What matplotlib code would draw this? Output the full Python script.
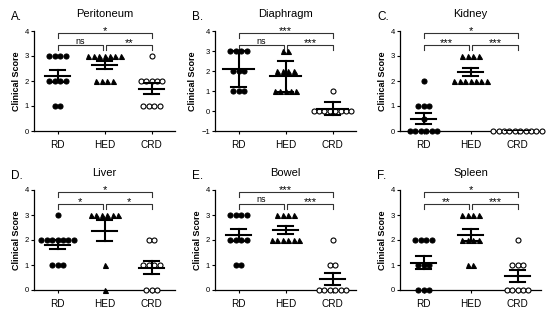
import numpy as np
import matplotlib.pyplot as plt
from matplotlib.transforms import blended_transform_factory

plt.rcParams['font.family'] = ['Liberation Sans', 'DejaVu Sans']

groups = ['RD', 'HED', 'CRD']
panels = ['A.', 'B.', 'C.', 'D.', 'E.', 'F.']
titles = ['Peritoneum', 'Diaphragm', 'Kidney', 'Liver', 'Bowel', 'Spleen']

# clinical scores per group
peritoneum_rd = [3, 3, 3, 3, 2, 2, 2, 2, 1, 1]
peritoneum_hed = [3, 3, 3, 3, 3, 3, 3, 2, 2, 2, 2]
peritoneum_crd = [3, 2, 2, 2, 2, 2, 1, 1, 1, 1]

diaphragm_rd = [3, 3, 3, 3, 2, 2, 2, 1, 1, 1]
diaphragm_hed = [3, 3, 2, 2, 2, 2, 1, 1, 1, 1, 1]
diaphragm_crd = [1, 0, 0, 0, 0, 0, 0, 0, 0]

kidney_rd = [2, 1, 1, 1, 0.5, 0, 0, 0, 0, 0, 0]
kidney_hed = [3, 3, 3, 3, 2, 2, 2, 2, 2, 2, 2]
kidney_crd = [0, 0, 0, 0, 0, 0, 0, 0, 0, 0]

liver_rd = [3, 2, 2, 2, 2, 2, 2, 2, 1, 1, 1]
liver_hed = [3, 3, 3, 3, 3, 3, 1, 0]
liver_crd = [2, 2, 1, 1, 1, 1, 0, 0, 0]

bowel_rd = [3, 3, 3, 3, 2, 2, 2, 2, 1, 1]
bowel_hed = [3, 3, 3, 3, 2, 2, 2, 2, 2, 2]
bowel_crd = [2, 1, 1, 0, 0, 0, 0, 0, 0]

spleen_rd = [2, 2, 2, 2, 1, 1, 1, 0, 0, 0]
spleen_hed = [3, 3, 3, 3, 2, 2, 2, 2, 1, 1]
spleen_crd = [2, 1, 1, 1, 0, 0, 0, 0, 0]

data = [
    [peritoneum_rd, peritoneum_hed, peritoneum_crd],
    [diaphragm_rd, diaphragm_hed, diaphragm_crd],
    [kidney_rd, kidney_hed, kidney_crd],
    [liver_rd, liver_hed, liver_crd],
    [bowel_rd, bowel_hed, bowel_crd],
    [spleen_rd, spleen_hed, spleen_crd],
]

# significance: (RD vs HED, HED vs CRD, RD vs CRD)
signif = [
    ('ns', '**', '*'),
    ('ns', '***', '***'),
    ('***', '***', '*'),
    ('*', '*', '*'),
    ('ns', '***', '***'),
    ('**', '***', '*'),
]

# error bars: SD in diaphragm, SEM elsewhere
use_sd = [False, True, False, False, False, False]
ylims = [(0, 4), (-1, 4), (0, 4), (0, 4), (0, 4), (0, 4)]

markers = [('o', 'k'), ('^', 'k'), ('o', 'white')]

fig = plt.figure(figsize=(5.5, 3.2), dpi=100)

lefts = [34, 215, 400]
bottoms = [131, 290]
W, H = 550.0, 320.0

for i in range(6):
    r, c = divmod(i, 3)
    ax = fig.add_axes([lefts[c] / W, (H - bottoms[r]) / H, 141 / W, 100 / H])
    for g, vals in enumerate(data[i]):
        vals = np.array(vals, dtype=float)
        # spread repeated values sideways
        for v in np.unique(vals):
            n = int(np.sum(vals == v))
            xs = g + (np.arange(n) - (n - 1) / 2) * 0.115
            m, fc = markers[g]
            ax.plot(xs, [v] * n, linestyle='none', marker=m, ms=3.6,
                    mfc=fc, mec='k', mew=0.8, clip_on=False, zorder=3)
        mean = vals.mean()
        err = vals.std(ddof=1)
        if not use_sd[i]:
            err = err / np.sqrt(len(vals))
        wm = 0.33 if use_sd[i] else 0.27
        ax.plot([g - wm, g + wm], [mean, mean], color='k', lw=1.5, zorder=4)
        ax.plot([g, g], [mean - err, mean + err], color='k', lw=1.5, zorder=4)
        for y in (mean - err, mean + err):
            ax.plot([g - 0.17, g + 0.17], [y, y], color='k', lw=1.5, zorder=4)

    ax.set_xlim(-0.5, 2.5)
    ax.set_ylim(*ylims[i])
    ax.set_yticks(range(ylims[i][0], 5))
    ax.set_xticks(range(3))
    ax.set_xticklabels(groups, fontsize=7.2)
    ax.tick_params(axis='x', length=2.5, width=0.8, pad=4)
    ax.tick_params(axis='y', labelsize=5.5, length=2.5, width=0.8, pad=1)
    ax.spines['top'].set_visible(False)
    ax.spines['right'].set_visible(False)
    ax.spines['left'].set_linewidth(0.9)
    ax.spines['bottom'].set_linewidth(0.9)
    ax.set_ylabel('Clinical Score', fontsize=6.5, fontweight='bold', labelpad=3)
    ax.set_title(titles[i], fontsize=8, pad=10)
    ax.text(-0.16, 1.14, panels[i], transform=ax.transAxes, fontsize=8.5,
            ha='left', va='center')

    # significance brackets
    tr = blended_transform_factory(ax.transData, ax.transAxes)
    s1, s2, s3 = signif[i]
    for x0, x1, yb, lab in [(0, 0.96, 0.86, s1), (1.04, 2, 0.86, s2),
                            (0, 2, 0.98, s3)]:
        ax.plot([x0, x0, x1, x1], [yb - 0.05, yb, yb, yb - 0.05], color='0.2',
                lw=0.8, transform=tr, clip_on=False)
        if lab == 'ns':
            ax.text((x0 + x1) / 2, yb - 0.005, lab, transform=tr, ha='center',
                    va='bottom', fontsize=6.5)
        else:
            ax.text((x0 + x1) / 2, yb - 0.035, lab, transform=tr, ha='center',
                    va='bottom', fontsize=8)

fig.savefig('out.png', dpi=100)
